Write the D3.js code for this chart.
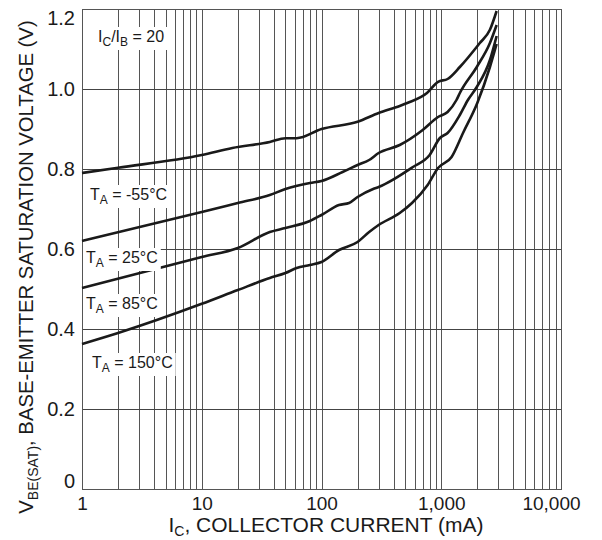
<!DOCTYPE html>
<html>
<head>
<meta charset="utf-8">
<script src="https://cdn.jsdelivr.net/npm/d3@7"></script>
<style>
  body { margin: 0; background: #fff; }
  text { font-family: "Liberation Sans", Arial, sans-serif; fill: #1a1a1a; }
</style>
</head>
<body>
<div class="chart"></div>
<script>
var svgWidth = 602;
var svgHeight = 540;

var margin = { top: 9, right: 41, bottom: 51, left: 82 };
var width = svgWidth - margin.left - margin.right;
var height = svgHeight - margin.top - margin.bottom;

// collector current (mA) and VBE(sat) (V)
var icMinus55 = [1, 2, 10, 18, 37, 50, 62, 100, 200, 300, 450, 520, 760, 940, 1130, 1430, 2100, 2550, 2900];
var vbeMinus55 = [0.79, 0.803, 0.835, 0.8525, 0.8675, 0.877, 0.877, 0.9, 0.918, 0.94, 0.9575, 0.965, 0.99, 1.018, 1.025, 1.055, 1.115, 1.148, 1.195];

var ic25 = [1, 10, 20, 37, 50, 80, 100, 150, 200, 250, 300, 450, 700, 940, 1130, 1340, 1430, 1980, 2550, 2900];
var vbe25 = [0.62, 0.6925, 0.715, 0.735, 0.75, 0.765, 0.77, 0.7925, 0.81, 0.8225, 0.84, 0.86, 0.8975, 0.93, 0.9425, 0.9725, 0.99, 1.055, 1.115, 1.16];

var ic85 = [1, 10, 20, 37, 50, 80, 100, 140, 170, 200, 270, 300, 580, 800, 975, 1130, 1430, 1670, 1980, 2550, 2900];
var vbe85 = [0.5025, 0.58, 0.6025, 0.6425, 0.6525, 0.67, 0.685, 0.71, 0.715, 0.73, 0.75, 0.755, 0.805, 0.835, 0.8775, 0.89, 0.935, 0.9725, 1.005, 1.0725, 1.1325];

var ic150 = [1, 2, 10, 20, 37, 50, 62, 80, 100, 140, 200, 250, 300, 450, 570, 770, 940, 1220, 1520, 2000, 2550, 2900];
var vbe150 = [0.3625, 0.39, 0.463, 0.4975, 0.5275, 0.54, 0.5525, 0.56, 0.5675, 0.5975, 0.6175, 0.6425, 0.66, 0.69, 0.715, 0.76, 0.8025, 0.83, 0.89, 0.965, 1.055, 1.1125];

// axis ticks
var xTicks = [1, 10, 100, 1000, 10000];
var xTickLabels = ["1", "10", "100", "1,000", "10,000"];
var yTicks = [0, 0.2, 0.4, 0.6, 0.8, 1.0, 1.2];
var yTickLabels = ["0", "0.2", "0.4", "0.6", "0.8", "1.0", "1.2"];

var svg = d3.select(".chart")
  .append("svg")
  .attr("width", svgWidth)
  .attr("height", svgHeight);

var chartGroup = svg.append("g")
  .attr("transform", `translate(${margin.left}, ${margin.top})`);

var xScale = d3.scaleLog().domain([1, 10000]).range([0, width]);
var yScale = d3.scaleLinear().domain([0, 1.2]).range([height, 0]);

// grid: every 1..9 per decade
var minorX = [];
for (var dec = 1; dec < 10000; dec *= 10) {
  for (var m = 1; m < 10; m++) minorX.push(dec * m);
}
minorX.push(10000);

chartGroup.append("g")
  .selectAll("line")
  .data(minorX)
  .enter()
  .append("line")
  .attr("x1", d => Math.round(xScale(d)) + 0.5)
  .attr("x2", d => Math.round(xScale(d)) + 0.5)
  .attr("y1", 0)
  .attr("y2", height)
  .attr("stroke", "#555")
  .attr("stroke-width", 1);

chartGroup.append("g")
  .selectAll("line")
  .data(yTicks)
  .enter()
  .append("line")
  .attr("x1", 0)
  .attr("x2", width)
  .attr("y1", d => Math.round(yScale(d)) + 0.5)
  .attr("y2", d => Math.round(yScale(d)) + 0.5)
  .attr("stroke", "#444")
  .attr("stroke-width", 1);

// frame
chartGroup.append("rect")
  .attr("x", 0.5)
  .attr("y", 0.5)
  .attr("width", width)
  .attr("height", height)
  .attr("fill", "none")
  .attr("stroke", "#555");

// curves
var curves = [
  { ic: icMinus55, vbe: vbeMinus55 },
  { ic: ic25, vbe: vbe25 },
  { ic: ic85, vbe: vbe85 },
  { ic: ic150, vbe: vbe150 }
];

var line = d3.line()
  .curve(d3.curveMonotoneX)
  .x(d => xScale(d[0]))
  .y(d => yScale(d[1]));

chartGroup.selectAll(".curve")
  .data(curves)
  .enter()
  .append("path")
  .attr("class", "curve")
  .attr("d", c => line(c.ic.map((v, i) => [v, c.vbe[i]])))
  .attr("fill", "none")
  .attr("stroke", "#1a1a1a")
  .attr("stroke-width", 2.6)
  .attr("stroke-linejoin", "round");

// labels inside the plot, white box behind them
function addLabel(x, y, parts) {
  var g = chartGroup.append("g");
  var rect = g.append("rect").attr("fill", "#fff");
  var t = g.append("text")
    .attr("x", x)
    .attr("y", y)
    .attr("font-size", 16);
  var shift = 0;
  parts.forEach(function (p) {
    if (p.sub) {
      t.append("tspan").attr("dy", 4 - shift).attr("font-size", 12).text(p.sub);
      shift = 4;
    } else {
      t.append("tspan").attr("dy", -shift).text(p.txt);
      shift = 0;
    }
  });
  var bb = t.node().getBBox();
  rect.attr("x", bb.x - 3).attr("y", bb.y - 1)
    .attr("width", bb.width + 6).attr("height", bb.height + 2);
}

addLabel(16, 33, [{ txt: "I" }, { sub: "C" }, { txt: "/I" }, { sub: "B" }, { txt: " = 20" }]);
addLabel(8, 191, [{ txt: "T" }, { sub: "A" }, { txt: " = -55°C" }]);
addLabel(4, 254, [{ txt: "T" }, { sub: "A" }, { txt: " = 25°C" }]);
addLabel(4, 300, [{ txt: "T" }, { sub: "A" }, { txt: " = 85°C" }]);
addLabel(10, 359, [{ txt: "T" }, { sub: "A" }, { txt: " = 150°C" }]);

// axes
var bottomAxis = d3.axisBottom(xScale)
  .tickValues(xTicks)
  .tickFormat((d, i) => xTickLabels[i])
  .tickSize(0)
  .tickPadding(8);

var leftAxis = d3.axisLeft(yScale)
  .tickValues(yTicks)
  .tickFormat((d, i) => yTickLabels[i])
  .tickSize(0)
  .tickPadding(7);

var xAxis = chartGroup.append("g")
  .attr("transform", `translate(0, ${height})`)
  .call(bottomAxis);
xAxis.select(".domain").remove();
xAxis.selectAll("text")
  .attr("font-size", 19)
  .attr("font-family", "Liberation Sans, Arial, sans-serif")
  .attr("fill", "#1a1a1a")
  .attr("dx", d => d == 10000 ? -10 : 0);

var yAxis = chartGroup.append("g").call(leftAxis);
yAxis.select(".domain").remove();
yAxis.selectAll("text")
  .attr("font-size", 20)
  .attr("font-family", "Liberation Sans, Arial, sans-serif")
  .attr("fill", "#1a1a1a")
  .attr("y", d => d == 1.2 ? 9 : (d == 0 ? -8 : 0));

// axis titles
var xTitle = svg.append("text")
  .attr("x", 326)
  .attr("y", 532)
  .attr("text-anchor", "middle")
  .attr("font-size", 21);
xTitle.append("tspan").text("I");
xTitle.append("tspan").attr("dy", 4).attr("font-size", 14).text("C");
xTitle.append("tspan").attr("dy", -4).text(", COLLECTOR CURRENT (mA)");

var yTitle = svg.append("text")
  .attr("transform", "translate(33, 267) rotate(-90)")
  .attr("text-anchor", "middle")
  .attr("font-size", 20.3);
yTitle.append("tspan").text("V");
yTitle.append("tspan").attr("dy", 5).attr("font-size", 14).text("BE(SAT)");
yTitle.append("tspan").attr("dy", -5).text(", BASE-EMITTER SATURATION VOLTAGE (V)");
</script>
</body>
</html>
